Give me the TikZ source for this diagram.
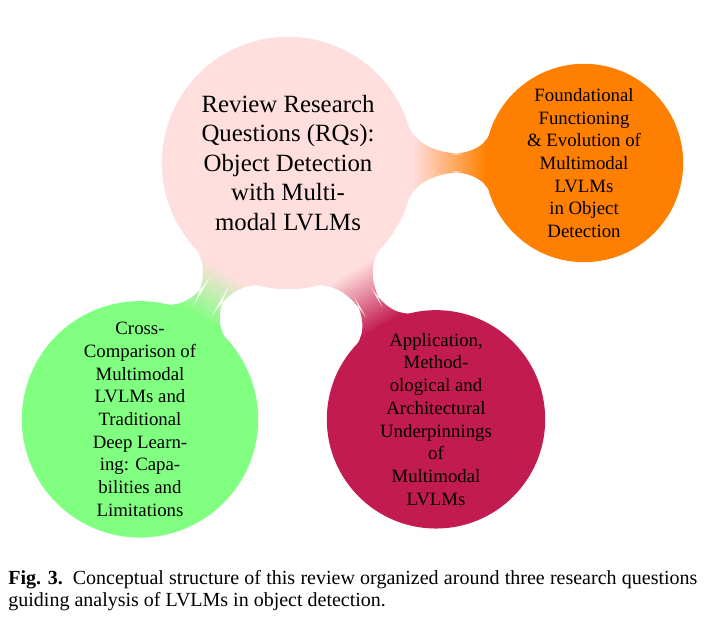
\documentclass[tikz,border=0pt]{standalone}
\usepackage{fontspec}
\setmainfont{Liberation Serif}
\usetikzlibrary{mindmap,backgrounds}
\definecolor{rqpink}{RGB}{255,222,222}
\definecolor{rqorange}{RGB}{255,128,0}
\definecolor{rqgreen}{RGB}{128,255,128}
\definecolor{rqcrimson}{RGB}{194,27,80}
\begin{document}
\begin{tikzpicture}[x=1pt,y=1pt,
    rqroot/.style={concept color=rqpink,concept,minimum size=125pt,
        font=\fontsize{12.4}{14.75}\selectfont},
    rqbranch/.style={concept,font=\fontsize{9.4}{11.35}\selectfont}]
    \useasboundingbox (0,0) rectangle (358,315);
    \begin{scope}[mindmap,every concept/.append style={inner sep=0pt,text=black,align=center,text width=}]
        \node[rqroot] (rq) at (144,233.5) {Review Research\\Questions (RQs):\\Object Detection\\with Multi-\\modal LVLMs};
        % three research questions, 148pt from the root
        \node[concept color=rqorange,rqbranch,minimum size=98pt] (rqa) at ([shift={(0:148)}]rq.center)
            {Foundational\\Functioning\\\& Evolution of\\Multimodal\\LVLMs\\in Object\\Detection};
        \node[concept color=rqcrimson,rqbranch,minimum size=108pt] (rqb) at ([shift={(-60:148)}]rq.center)
            {Application,\\Method-\\ological and\\Architectural\\Underpinnings\\of\\Multimodal\\LVLMs};
        \node[concept color=rqgreen,rqbranch,minimum size=117pt] (rqc) at ([shift={(-120:148)}]rq.center)
            {Cross-\\Comparison of\\Multimodal\\LVLMs and\\Traditional\\Deep Learn-\\ing: Capa-\\bilities and\\Limitations};
        \begin{pgfonlayer}{background}
            \path (rq) to[circle connection bar switch color=from (rqpink) to (rqorange)] (rqa);
            \path (rq) to[circle connection bar switch color=from (rqpink) to (rqcrimson)] (rqb);
            \path (rq) to[circle connection bar switch color=from (rqpink) to (rqgreen)] (rqc);
        \end{pgfonlayer}
    \end{scope}
    \node[anchor=north west,inner sep=0pt,text width=344.5pt,align=justify,
        font=\fontsize{10}{11}\selectfont] (caption) at (4,30)
        {\mbox{\textbf{Fig. 3.}}\enspace Conceptual structure of this review organized around three research questions\linebreak guiding analysis of LVLMs in object detection.};
\end{tikzpicture}
\end{document}
